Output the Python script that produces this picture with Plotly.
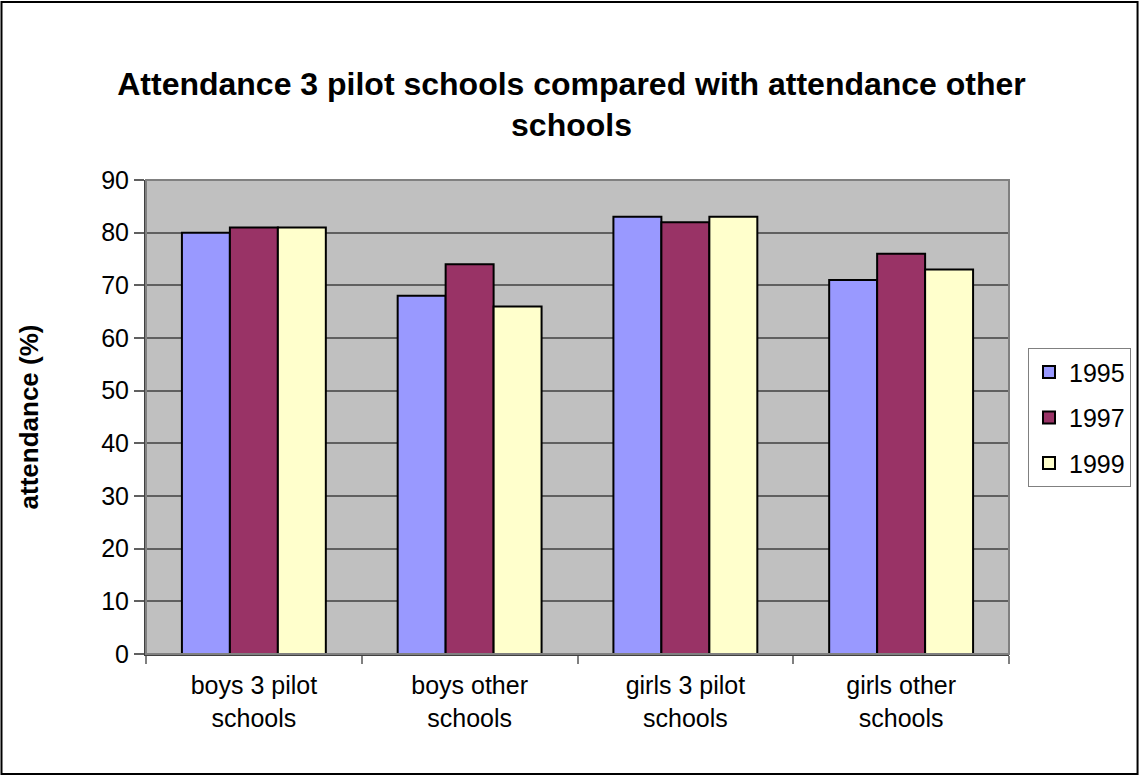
import plotly.graph_objects as go

# Attendance (%) per group and year
categories = ["boys 3 pilot<br>schools", "boys other<br>schools",
              "girls 3 pilot<br>schools", "girls other<br>schools"]
years = ["1995", "1997", "1999"]
att_1995 = [80, 68, 83, 71]
att_1997 = [81, 74, 82, 76]
att_1999 = [81, 66, 83, 73]
y_ticks = [0, 10, 20, 30, 40, 50, 60, 70, 80, 90]

series = [att_1995, att_1997, att_1999]
colors = ["#9999FF", "#993366", "#FFFFCC"]

FONT = "Liberation Sans, Arial, sans-serif"

fig = go.Figure()
for i, (yr, vals) in enumerate(zip(years, series)):
    fig.add_trace(go.Bar(
        x=categories, y=vals, name=yr,
        marker=dict(color=colors[i], line=dict(color="black", width=2)),
        legendgroup=yr,
    ))

fig.update_layout(
    width=1143, height=776,
    margin=dict(l=146, r=131, t=180, b=122),
    paper_bgcolor="white",
    plot_bgcolor="#C0C0C0",
    barmode="group",
    bargap=0.333,
    bargroupgap=0,
    font=dict(family=FONT, size=25, color="black"),
    title=dict(
        text="<b>Attendance 3 pilot schools compared with attendance other<br>schools</b>",
        x=0.5, xref="container", xanchor="center",
        y=0.878, yref="container", yanchor="middle",
        font=dict(family=FONT, size=32, color="black"),
    ),
    legend=dict(
        x=1.022, xanchor="left", y=0.645, yanchor="top",
        bgcolor="white", bordercolor="#808080", borderwidth=1,
        font=dict(family=FONT, size=25, color="black"),
        tracegroupgap=10,
        traceorder="grouped",
    ),
    showlegend=True,
)

fig.update_xaxes(
    showgrid=False,
    showline=True, linecolor="#404040", linewidth=2,
    ticks="outside", tickson="boundaries", ticklen=8, tickcolor="#808080", tickwidth=2,
    tickfont=dict(family=FONT, size=25, color="black"),
    ticklabelstandoff=8,
)
fig.update_yaxes(
    range=[0, 90], tickvals=y_ticks,
    showgrid=True, gridcolor="#606060", gridwidth=2,
    showline=True, linecolor="#404040", linewidth=2,
    ticks="outside", ticklen=10, tickcolor="#606060", tickwidth=2,
    tickfont=dict(family=FONT, size=25, color="black"),
    title=dict(text="<b>attendance (%)</b>", font=dict(family=FONT, size=26, color="black"), standoff=55),
    zeroline=False,
)

# Plot-area border (top and right edges)
fig.add_shape(type="rect", xref="paper", yref="paper", x0=0, x1=1, y0=0, y1=1,
              line=dict(color="#808080", width=2), fillcolor="rgba(0,0,0,0)", layer="above")
# Outer chart frame
fig.add_shape(type="rect", xref="paper", yref="paper",
              x0=-145 / 866, x1=1 + 129 / 866, y0=-120 / 474, y1=1 + 178 / 474,
              line=dict(color="black", width=2), fillcolor="rgba(0,0,0,0)", layer="above")

fig.write_html("out.html")
